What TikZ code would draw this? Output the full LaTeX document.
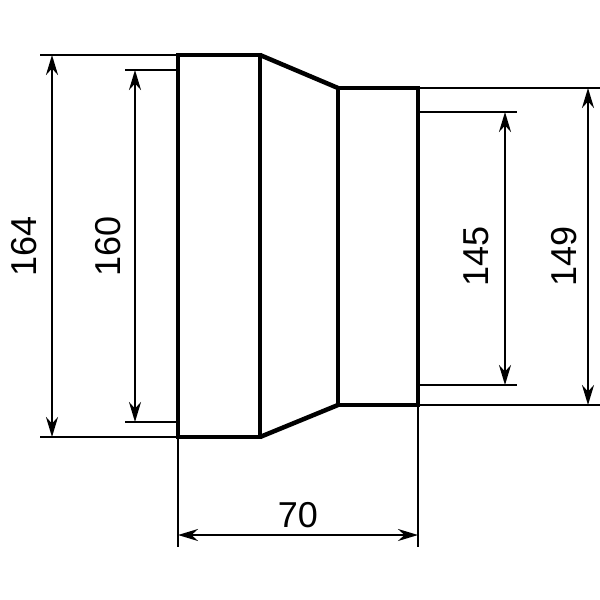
\documentclass[tikz,border=0pt]{standalone}
\usepackage{fontspec}
\setmainfont{Liberation Sans}
\usetikzlibrary{arrows.meta}
\begin{document}
\begin{tikzpicture}[x=1pt,y=-1pt,
  body/.style={line width=4.5pt},
  ext/.style={line width=2.2pt},
  dim/.style={line width=2.2pt,{Stealth[length=20pt,width=12pt]}-{Stealth[length=20pt,width=12pt]}},
  lab/.style={font=\fontsize{36}{36}\selectfont}]
\useasboundingbox (0,0) rectangle (600,600);
% body
\draw[body] (178,55) rectangle (260,437);
\draw[body] (338,88) rectangle (418,405);
\draw[body] (260,55) -- (338,88);
\draw[body] (260,437) -- (338,405);
% coordinates
\coordinate (a1) at (52,55); \coordinate (a2) at (52,437);
\coordinate (b1) at (135,70); \coordinate (b2) at (135,422);
\coordinate (c1) at (505,112); \coordinate (c2) at (505,385);
\coordinate (d1) at (588,88); \coordinate (d2) at (588,405);
\coordinate (e1) at (178,535); \coordinate (e2) at (418,535);
% extension lines
\draw[ext] (178,55) -- (40,55); \draw[ext] (178,437) -- (40,437);
\draw[ext] (178,70) -- (125,70); \draw[ext] (178,422) -- (125,422);
\draw[ext] (418,112) -- (517,112); \draw[ext] (418,385) -- (517,385);
\draw[ext] (418,88) -- (600,88); \draw[ext] (418,405) -- (600,405);
\draw[ext] (178,437) -- (178,547); \draw[ext] (418,405) -- (418,547);
% dimensions
\draw[dim] (a1) -- (a2);
\draw[dim] (b1) -- (b2);
\draw[dim] (c1) -- (c2);
\draw[dim] (d1) -- (d2);
\draw[dim] (e1) -- (e2);
\node[lab,rotate=90] (t164) at (24,246) {164};
\node[lab,rotate=90] (t160) at (108,246) {160};
\node[lab,rotate=90] (t145) at (476,256) {145};
\node[lab,rotate=90] (t149) at (564,256) {149};
\node[lab] (t70) at (298,515) {70};
\end{tikzpicture}
\end{document}
